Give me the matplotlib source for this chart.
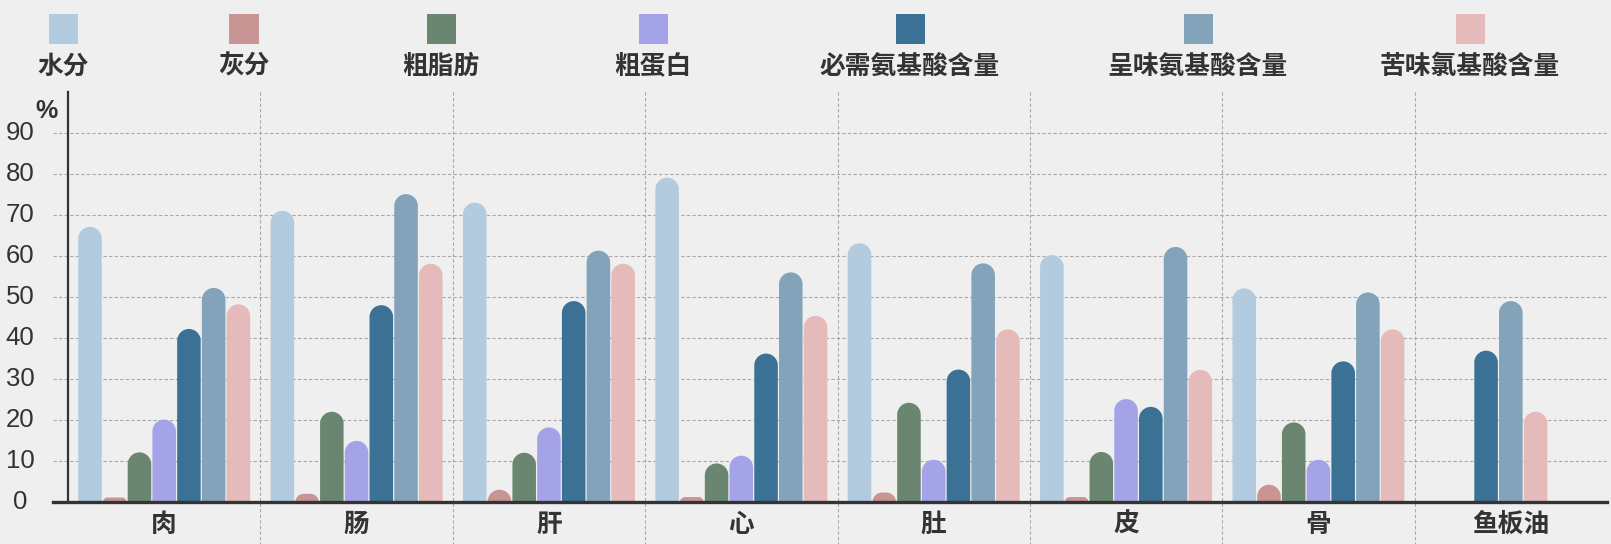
import numpy as np
import matplotlib
matplotlib.use('Agg')
from matplotlib import pyplot as plt
from matplotlib.path import Path
from matplotlib.patches import PathPatch, Rectangle

plt.rcParams['font.family'] = ['Noto Sans CJK SC', 'DejaVu Sans']

## data (None = no bar)
categories = ['肉', '肠', '肝', '心', '肚', '皮', '骨', '鱼板油']
series_names = ['水分', '灰分', '粗脂肪', '粗蛋白', '必需氨基酸含量', '呈味氨基酸含量', '苦味氯基酸含量']
water = [67.1, 71, 73, 79.1, 63.1, 60.2, 52.1, None]
ash = [1.1, 2.0, 3.0, 1.2, 2.3, 1.2, 4.2, None]
fat = [12.1, 22, 12, 9.4, 24.2, 12.2, 19.4, None]
protein = [20.1, 14.9, 18.2, 11.3, 10.3, 25.1, 10.3, None]
essential_aa = [42.2, 48, 49, 36.2, 32.3, 23.2, 34.3, 36.9]
umami_aa = [52.2, 75.1, 61.3, 56, 58.2, 62.2, 51.1, 49]
bitter_aa = [48.2, 58.1, 58.1, 45.4, 42.1, 32.2, 42.1, 22]
values = [water, ash, fat, protein, essential_aa, umami_aa, bitter_aa]
colors = ['#b2cbde', '#c99494', '#6b8670', '#a4a3e8', '#3b7194', '#82a3b9', '#e4baba']
yticks = list(range(0, 100, 10))

## layout in pixels
W, H = 1611, 544
ax_l, ax_r, ax_t, ax_b = 68, 1607, 92, 502
ymax = 100
bg = '#efefef'
dark = '#333333'
grid_c = '#a8a8a8'

fig = plt.figure(figsize=(W / 100, H / 100), dpi=100, facecolor=bg)
ax = fig.add_axes([ax_l / W, 1 - ax_b / H, (ax_r - ax_l) / W, (ax_b - ax_t) / H], facecolor=bg)
n_cat = len(categories)
ax.set_xlim(0, n_cat)
ax.set_ylim(0, ymax)
for s in ax.spines.values():
    s.set_visible(False)
ax.set_xticks([])
ax.set_yticks([])

sx = (ax_r - ax_l) / n_cat   # px per x unit
sy = (ax_b - ax_t) / ymax    # px per y unit

## grid
for v in yticks[1:]:
    ax.plot([-15 / sx, n_cat], [v, v], color=grid_c, lw=0.8, ls=(0, (3, 2)), clip_on=False, zorder=1)
for k in range(1, n_cat):
    ax.plot([k, k], [ymax, -(H - ax_b) / sy], color=grid_c, lw=0.8, ls=(0, (3, 2)), clip_on=False, zorder=1)

## axes lines
ax.plot([0, 0], [0, ymax], color=dark, lw=1.6, clip_on=False, zorder=4)
ax.plot([-15 / sx, n_cat], [0, 0], color=dark, lw=2.4, clip_on=False, zorder=4)


def round_top_bar(x0, w, h, color):
    ## bar with rounded top corners, radius in pixels
    r_px = min(w * sx / 2, h * sy)
    rx, ry = r_px / sx, r_px / sy
    k = 0.5523
    x1 = x0 + w
    verts = [(x0, 0), (x0, h - ry),
             (x0, h - ry + k * ry), (x0 + rx - k * rx, h), (x0 + rx, h),
             (x1 - rx, h),
             (x1 - rx + k * rx, h), (x1, h - ry + k * ry), (x1, h - ry),
             (x1, 0), (x0, 0)]
    codes = [Path.MOVETO, Path.LINETO,
             Path.CURVE4, Path.CURVE4, Path.CURVE4,
             Path.LINETO,
             Path.CURVE4, Path.CURVE4, Path.CURVE4,
             Path.LINETO, Path.CLOSEPOLY]
    ax.add_patch(PathPatch(Path(verts, codes), facecolor=color, edgecolor='none', zorder=3))


## bars (groups without some series are centred on what is left)
group_w = 0.9
slot = group_w / len(values)
bar_w = slot - 1.2 / sx
for i in range(n_cat):
    present = [j for j in range(len(values)) if values[j][i] is not None]
    n = len(present)
    for pos, j in enumerate(present):
        cx = i + 0.5 + (pos - (n - 1) / 2) * slot
        round_top_bar(cx - bar_w / 2, bar_w, values[j][i], colors[j])

## tick labels
for v in yticks:
    fig.text(20 / W, 1 - (ax_b - v * sy) / H, str(v), ha='center', va='center',
             fontsize=18.5, color=dark, family=['Liberation Sans'])
fig.text(47 / W, 1 - 111 / H, '%', ha='center', va='center', fontsize=18,
         fontweight='bold', color=dark, family=['Liberation Sans'])
for i, c in enumerate(categories):
    fig.text((ax_l + (i + 0.5) * sx) / W, 1 - 524 / H, c, ha='center', va='center',
             fontsize=18.5, fontweight='bold', color=dark)

## legend
leg_x = [63, 244, 441, 653, 910, 1198, 1470]
for j, name in enumerate(series_names):
    fig.patches.append(Rectangle(((leg_x[j] - 14.5) / W, 1 - 44 / H), 29 / W, 30 / H,
                                 transform=fig.transFigure, facecolor=colors[j], edgecolor='none'))
    fig.text(leg_x[j] / W, 1 - 66 / H, name, ha='center', va='center',
             fontsize=18.5, fontweight='bold', color=dark)

fig.savefig('out.png', dpi=100, facecolor=bg)
